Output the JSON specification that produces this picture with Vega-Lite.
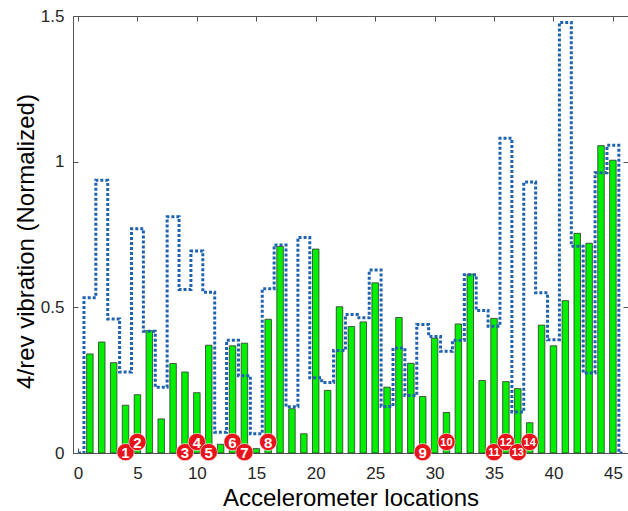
{
  "$schema": "https://vega.github.io/schema/vega-lite/v6.json",
  "width": 555,
  "height": 437,
  "autosize": "none",
  "padding": {"left": 73, "top": 16, "right": 0, "bottom": 58},
  "background": "white",
  "config": {
    "view": {"stroke": "#555555", "strokeWidth": 1},
    "font": "Liberation Sans",
    "axis": {
      "domainColor": "#555555",
      "tickColor": "#555555",
      "labelColor": "#262626",
      "labelFont": "Liberation Sans",
      "labelFontSize": 17,
      "titleFont": "Liberation Sans",
      "titleFontWeight": "normal",
      "titleColor": "#000000",
      "grid": false
    }
  },
  "datasets": {
    "bars": [
      {"loc": 1, "bar": 0.340}, {"loc": 2, "bar": 0.381}, {"loc": 3, "bar": 0.310}, {"loc": 4, "bar": 0.164}, {"loc": 5, "bar": 0.200},
      {"loc": 6, "bar": 0.420}, {"loc": 7, "bar": 0.117}, {"loc": 8, "bar": 0.307}, {"loc": 9, "bar": 0.278}, {"loc": 10, "bar": 0.207},
      {"loc": 11, "bar": 0.370}, {"loc": 12, "bar": 0.030}, {"loc": 13, "bar": 0.368}, {"loc": 14, "bar": 0.377}, {"loc": 15, "bar": 0.015},
      {"loc": 16, "bar": 0.459}, {"loc": 17, "bar": 0.709}, {"loc": 18, "bar": 0.152}, {"loc": 19, "bar": 0.066}, {"loc": 20, "bar": 0.700},
      {"loc": 21, "bar": 0.215}, {"loc": 22, "bar": 0.502}, {"loc": 23, "bar": 0.434}, {"loc": 24, "bar": 0.450}, {"loc": 25, "bar": 0.584},
      {"loc": 26, "bar": 0.226}, {"loc": 27, "bar": 0.465}, {"loc": 28, "bar": 0.308}, {"loc": 29, "bar": 0.194}, {"loc": 30, "bar": 0.394},
      {"loc": 31, "bar": 0.139}, {"loc": 32, "bar": 0.443}, {"loc": 33, "bar": 0.614}, {"loc": 34, "bar": 0.249}, {"loc": 35, "bar": 0.462},
      {"loc": 36, "bar": 0.245}, {"loc": 37, "bar": 0.221}, {"loc": 38, "bar": 0.104}, {"loc": 39, "bar": 0.439}, {"loc": 40, "bar": 0.368},
      {"loc": 41, "bar": 0.523}, {"loc": 42, "bar": 0.754}, {"loc": 43, "bar": 0.720}, {"loc": 44, "bar": 1.055}, {"loc": 45, "bar": 1.005}
    ],
    "steps": [
      {"loc": 0, "v": 0},
      {"loc": 1, "v": 0.533}, {"loc": 2, "v": 0.936}, {"loc": 3, "v": 0.460}, {"loc": 4, "v": 0.278}, {"loc": 5, "v": 0.770},
      {"loc": 6, "v": 0.418}, {"loc": 7, "v": 0.226}, {"loc": 8, "v": 0.811}, {"loc": 9, "v": 0.561}, {"loc": 10, "v": 0.693},
      {"loc": 11, "v": 0.552}, {"loc": 12, "v": 0.071}, {"loc": 13, "v": 0.387}, {"loc": 14, "v": 0.265}, {"loc": 15, "v": 0.066},
      {"loc": 16, "v": 0.564}, {"loc": 17, "v": 0.714}, {"loc": 18, "v": 0.159}, {"loc": 19, "v": 0.740}, {"loc": 20, "v": 0.258},
      {"loc": 21, "v": 0.242}, {"loc": 22, "v": 0.352}, {"loc": 23, "v": 0.475}, {"loc": 24, "v": 0.464}, {"loc": 25, "v": 0.628},
      {"loc": 26, "v": 0.160}, {"loc": 27, "v": 0.360}, {"loc": 28, "v": 0.197}, {"loc": 29, "v": 0.441}, {"loc": 30, "v": 0.400},
      {"loc": 31, "v": 0.349}, {"loc": 32, "v": 0.387}, {"loc": 33, "v": 0.612}, {"loc": 34, "v": 0.489}, {"loc": 35, "v": 0.435},
      {"loc": 36, "v": 1.080}, {"loc": 37, "v": 0.141}, {"loc": 38, "v": 0.930}, {"loc": 39, "v": 0.550}, {"loc": 40, "v": 0.389},
      {"loc": 41, "v": 1.478}, {"loc": 42, "v": 0.710}, {"loc": 43, "v": 0.275}, {"loc": 44, "v": 0.962}, {"loc": 45, "v": 1.056},
      {"loc": 46, "v": 0}
    ],
    "markers": [
      {"n": 1, "loc": 4, "h": 0.003}, {"n": 2, "loc": 5, "h": 0.038}, {"n": 3, "loc": 9, "h": 0.003}, {"n": 4, "loc": 10, "h": 0.038},
      {"n": 5, "loc": 11, "h": 0.003}, {"n": 6, "loc": 13, "h": 0.038}, {"n": 7, "loc": 14, "h": 0.003}, {"n": 8, "loc": 16, "h": 0.038},
      {"n": 9, "loc": 29, "h": 0.003}, {"n": 10, "loc": 31, "h": 0.038}, {"n": 11, "loc": 35, "h": 0.003}, {"n": 12, "loc": 36, "h": 0.038},
      {"n": 13, "loc": 37, "h": 0.003}, {"n": 14, "loc": 38, "h": 0.038}
    ]
  },
  "layer": [
    {
      "data": {"name": "bars"},
      "mark": {"type": "bar", "width": 6.5, "color": "#00f000", "stroke": "#333333", "strokeWidth": 0.8},
      "encoding": {
        "x": {
          "field": "loc", "type": "quantitative",
          "scale": {"domain": [0, 45.85], "nice": false, "zero": false},
          "axis": {"orient": "bottom", "values": [0, 5, 10, 15, 20, 25, 30, 35, 40, 45], "tickSize": -5, "labelPadding": 17,
                   "title": "Accelerometer locations", "titleFontSize": 24, "titlePadding": 5, "labelFlush": false}
        },
        "y": {
          "field": "bar", "type": "quantitative",
          "scale": {"domain": [0, 1.5], "nice": false},
          "axis": {"orient": "left", "values": [0, 0.5, 1, 1.5], "labelExpr": "datum.value", "tickSize": -5, "labelPadding": 14,
                   "title": "4/rev vibration (Normalized)", "titleFontSize": 24, "titlePadding": 2, "titleY": 225, "labelFlush": false}
        }
      }
    },
    {
      "data": {"name": "steps"},
      "mark": {"type": "line", "interpolate": "step", "color": "#1f63b0", "strokeWidth": 3, "strokeDash": [3, 2], "clip": true},
      "encoding": {
        "x": {"field": "loc", "type": "quantitative",
              "axis": {"orient": "top", "values": [0, 5, 10, 15, 20, 25, 30, 35, 40, 45], "labels": false, "domain": false, "tickSize": -5, "title": null}},
        "y": {"field": "v", "type": "quantitative",
              "axis": {"orient": "right", "values": [0, 0.5, 1, 1.5], "labels": false, "domain": false, "tickSize": -5, "title": null}}
      }
    },
    {
      "data": {"name": "markers"},
      "mark": {"type": "point", "filled": true, "shape": "circle", "size": 300, "color": "#e8141c", "opacity": 1, "stroke": "white", "strokeWidth": 0.6},
      "encoding": {
        "x": {"field": "loc", "type": "quantitative", "axis": null},
        "y": {"field": "h", "type": "quantitative", "axis": null}
      }
    },
    {
      "data": {"name": "markers"},
      "mark": {"type": "text", "color": "white", "fontWeight": "bold", "align": "center", "baseline": "middle", "dy": 1, "font": "Liberation Sans"},
      "encoding": {
        "x": {"field": "loc", "type": "quantitative", "axis": null},
        "y": {"field": "h", "type": "quantitative", "axis": null},
        "text": {"field": "n", "type": "nominal"},
        "size": {"condition": {"test": "datum.n >= 10", "value": 11}, "value": 15}
      }
    }
  ],
  "resolve": {"axis": {"x": "independent", "y": "independent"}}
}
